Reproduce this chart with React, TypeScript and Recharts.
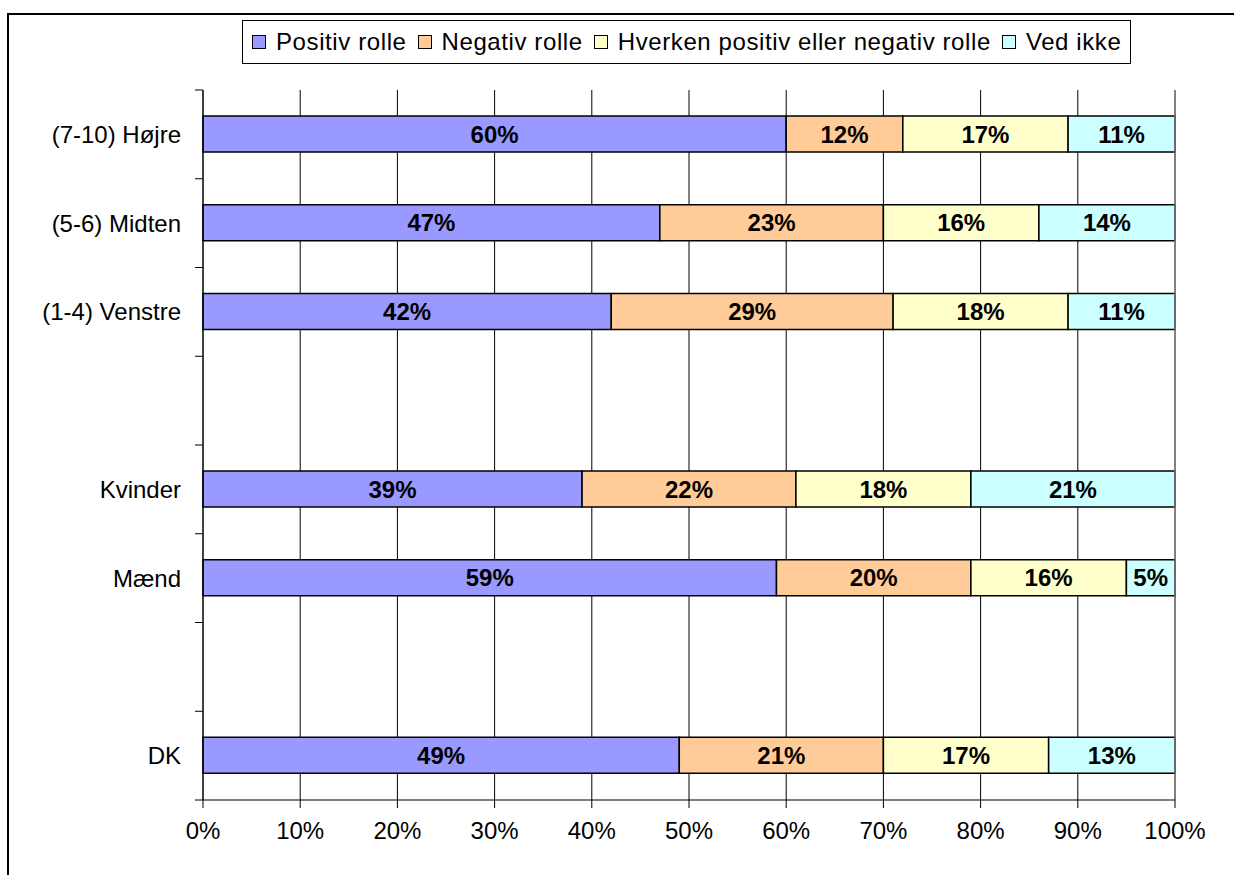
import React from "react";
import {
  BarChart,
  Bar,
  XAxis,
  YAxis,
  CartesianGrid,
  LabelList,
  ReferenceLine,
} from "recharts";

const categories = [
  "(7-10) Højre",
  "(5-6) Midten",
  "(1-4) Venstre",
  "",
  "Kvinder",
  "Mænd",
  "",
  "DK",
];

const positiv: (number | null)[] = [60, 47, 42, null, 39, 59, null, 49];
const negativ: (number | null)[] = [12, 23, 29, null, 22, 20, null, 21];
const hverken: (number | null)[] = [17, 16, 18, null, 18, 16, null, 17];
const vedIkke: (number | null)[] = [11, 14, 11, null, 21, 5, null, 13];

const seriesNames = [
  "Positiv rolle",
  "Negativ rolle",
  "Hverken positiv eller negativ rolle",
  "Ved ikke",
];
const seriesKeys = ["positiv", "negativ", "hverken", "vedIkke"];
const seriesColors = ["#9999FF", "#FFCC99", "#FFFFCC", "#CCFFFF"];

const xTicks = [0, 10, 20, 30, 40, 50, 60, 70, 80, 90, 100];

const data = categories.map((name, i) => ({
  name,
  positiv: positiv[i],
  negativ: negativ[i],
  hverken: hverken[i],
  vedIkke: vedIkke[i],
}));

const FONT = "'Liberation Sans', Arial, Helvetica, sans-serif";

const CHART_W = 1234;
const CHART_H = 875;
const MARGIN = { top: 90, right: 59, bottom: 25, left: 0 };
const X_AXIS_H = 50;
const Y_AXIS_W = 203;
const PLOT_H = CHART_H - MARGIN.top - MARGIN.bottom - X_AXIS_H;
const TICK_SIZE = 8;
const TICK_MARGIN = 14;

const YTick = (props: any) => {
  const { x, y, payload, index } = props;
  const half =
    payload && typeof payload.offset === "number" && payload.offset > 0
      ? payload.offset
      : PLOT_H / categories.length / 2;
  const x1 = x + TICK_MARGIN;
  const x2 = x1 + TICK_SIZE;
  return (
    <g>
      <line x1={x1} x2={x2} y1={y - half} y2={y - half} stroke="#000" strokeWidth={1} />
      {index === categories.length - 1 && (
        <line x1={x1} x2={x2} y1={y + half} y2={y + half} stroke="#000" strokeWidth={1} />
      )}
      <text
        x={x}
        y={y}
        dy="0.35em"
        textAnchor="end"
        fill="#000"
        fontSize={24}
        fontFamily={FONT}
      >
        {payload.value}
      </text>
    </g>
  );
};

const fmt = (v: any) => (v === null || v === undefined ? "" : `${v}%`);

const Legend = () => (
  <div
    style={{
      position: "absolute",
      left: 242,
      top: 20,
      height: 44,
      border: "1.5px solid #000",
      background: "#fff",
      display: "flex",
      alignItems: "center",
      padding: "0 9px 0 9px",
      fontFamily: FONT,
      fontSize: 24,
      letterSpacing: "0.6px",
      whiteSpace: "nowrap",
      boxSizing: "border-box",
    }}
  >
    {seriesNames.map((n, i) => (
      <div
        key={n}
        style={{
          display: "flex",
          alignItems: "center",
          marginRight: i === seriesNames.length - 1 ? 0 : 11,
        }}
      >
        <span
          style={{
            display: "inline-block",
            width: 12,
            height: 12,
            background: seriesColors[i],
            border: "1.5px solid #000",
            marginRight: 10,
          }}
        />
        <span>{n}</span>
      </div>
    ))}
  </div>
);

export default function App() {
  return (
    <div
      style={{
        position: "fixed",
        left: 0,
        top: 0,
        width: CHART_W,
        height: CHART_H,
        overflow: "hidden",
        background: "#fff",
      }}
    >
      <div
        style={{
          position: "absolute",
          left: 7,
          top: 13,
          width: 1400,
          height: 1000,
          border: "2px solid #000",
        }}
      />
      <div style={{ position: "absolute", left: 0, top: 0 }}>
        <BarChart
          width={CHART_W}
          height={CHART_H}
          data={data}
          layout="vertical"
          margin={MARGIN}
          barSize={36}
        >
          <CartesianGrid vertical horizontal={false} stroke="#000" strokeWidth={1} />
          <XAxis
            type="number"
            domain={[0, 100]}
            ticks={xTicks}
            interval={0}
            tickFormatter={(v: number) => `${v}%`}
            height={X_AXIS_H}
            axisLine={{ stroke: "#000", strokeWidth: 1 }}
            tickLine={{ stroke: "#000", strokeWidth: 1 }}
            tickSize={TICK_SIZE}
            tickMargin={14}
            tick={{ fill: "#000", fontSize: 24, fontFamily: FONT }}
          />
          <XAxis
            xAxisId="top"
            orientation="top"
            type="number"
            domain={[0, 100]}
            height={0}
            tick={false}
            tickLine={false}
            axisLine={{ stroke: "#808080", strokeWidth: 1.5 }}
          />
          <YAxis
            type="category"
            dataKey="name"
            width={Y_AXIS_W}
            interval={0}
            axisLine={{ stroke: "#000", strokeWidth: 1 }}
            tickLine={false}
            tickSize={TICK_SIZE}
            tickMargin={TICK_MARGIN}
            tick={<YTick />}
          />
          <ReferenceLine x={100} stroke="#808080" strokeWidth={1.5} />
          {seriesKeys.map((k, i) => (
            <Bar
              key={k}
              dataKey={k}
              name={seriesNames[i]}
              stackId="a"
              fill={seriesColors[i]}
              stroke="#000"
              strokeWidth={1.5}
              isAnimationActive={false}
            >
              <LabelList
                dataKey={k}
                position="center"
                formatter={fmt}
                fill="#000"
                fontSize={24}
                fontWeight="bold"
                fontFamily={FONT}
              />
            </Bar>
          ))}
        </BarChart>
      </div>
      <Legend />
    </div>
  );
}
